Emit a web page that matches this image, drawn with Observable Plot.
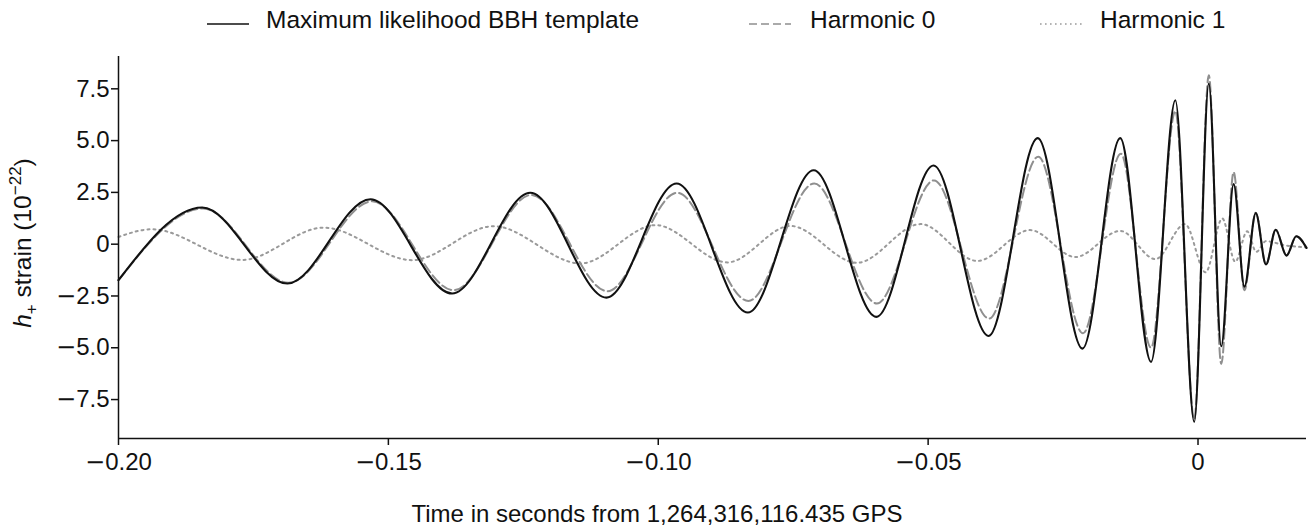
<!DOCTYPE html>
<html>
<head>
<meta charset="utf-8">
<script src="https://cdn.jsdelivr.net/npm/d3@7"></script>
<script src="https://cdn.jsdelivr.net/npm/@observablehq/plot@0.6"></script>
<style>
  html, body { margin: 0; padding: 0; background: #fff; }
  body { width: 1313px; height: 532px; overflow: hidden; font-family: "Liberation Sans", Arial, sans-serif; }
  #legend { position: relative; width: 1313px; height: 40px; font-size: 24.5px; color: #111; }
  #legend .sw { position: absolute; top: 14px; }
  #legend .lab { position: absolute; top: 6px; line-height: 28px; white-space: nowrap; }
</style>
</head>
<body>
<div id="legend"></div>
<div id="chart"></div>
<script>
// ---- Data (time in s, strain in 1e-22) ----
const seriesNames = ["Maximum likelihood BBH template", "Harmonic 0", "Harmonic 1"];

const templateT = [-0.2000, -0.1845, -0.1687, -0.1533, -0.1382, -0.1237, -0.1096, -0.0966, -0.0834, -0.0712,
                   -0.0596, -0.0490, -0.0388, -0.0297, -0.0214, -0.0144, -0.0087, -0.0042, -0.0007, 0.0020,
                   0.0043, 0.0066, 0.0086, 0.0107, 0.0126, 0.0144, 0.0164, 0.0182, 0.0201];
const templateH = [-1.74, 1.77, -1.90, 2.17, -2.38, 2.48, -2.58, 2.93, -3.30, 3.57,
                   -3.51, 3.80, -4.43, 5.12, -5.04, 5.12, -5.68, 6.95, -8.58, 7.75,
                   -4.93, 2.90, -2.05, 1.50, -0.98, 0.70, -0.55, 0.38, -0.18];

const harmonic0T = [-0.2000, -0.1843, -0.1685, -0.1530, -0.1379, -0.1235, -0.1094, -0.0965, -0.0833, -0.0711,
                    -0.0595, -0.0489, -0.0387, -0.0296, -0.0213, -0.0143, -0.0087, -0.0042, -0.0007, 0.0020,
                    0.0043, 0.0066, 0.0086, 0.0107, 0.0126, 0.0144, 0.0164, 0.0182, 0.0201];
const harmonic0H = [-1.74, 1.72, -1.86, 2.07, -2.22, 2.38, -2.27, 2.48, -2.74, 2.93,
                    -2.86, 3.08, -3.59, 4.22, -4.30, 4.37, -5.00, 6.42, -8.45, 8.15,
                    -5.78, 3.48, -2.22, 1.52, -0.98, 0.70, -0.55, 0.38, -0.18];

const harmonic1T = [-0.2000, -0.1938, -0.1771, -0.1620, -0.1456, -0.1305, -0.1144, -0.1005, -0.0872, -0.0755,
                    -0.0632, -0.0514, -0.0409, -0.0311, -0.0227, -0.0144, -0.0079, -0.0024, 0.0014, 0.0045,
                    0.0069, 0.0091, 0.0108, 0.0126, 0.0160, 0.0201];
const harmonic1H = [0.35, 0.72, -0.76, 0.80, -0.77, 0.87, -0.93, 0.92, -0.88, 0.88,
                    -0.90, 0.97, -0.81, 0.68, -0.62, 0.64, -0.72, 0.97, -1.36, 1.24,
                    -0.85, 0.62, -0.37, 0.15, -0.05, -0.15];

const xTicks = [-0.20, -0.15, -0.10, -0.05, 0];
const xTickLabels = ["\u22120.20", "\u22120.15", "\u22120.10", "\u22120.05", "0"];
const yTicks = [-7.5, -5.0, -2.5, 0, 2.5, 5.0, 7.5];
const yTickLabels = ["\u22127.5", "\u22125.0", "\u22122.5", "0", "2.5", "5.0", "7.5"];
const xLabel = "Time in seconds from 1,264,316,116.435 GPS";

// ---- Build tables ----
const toRows = (T, H) => T.map((t, i) => ({t, h: H[i]}));
const templateRows = toRows(templateT, templateH);
const h0Rows = toRows(harmonic0T, harmonic0H);
const h1Rows = toRows(harmonic1T, harmonic1H);

const xLab = new Map(xTicks.map((d, i) => [d, xTickLabels[i]]));
const yLab = new Map(yTicks.map((d, i) => [d, yTickLabels[i]]));

const styles = [
  {stroke: "#111111", dash: null, width: 2.1},
  {stroke: "#8f8f8f", dash: "10,4", width: 2},
  {stroke: "#9a9a9a", dash: "2,4", width: 2}
];

const xDomain = [-0.2, 0.0201];
const yDomain = [-9.38, 9.06];

const chart = Plot.plot({
  width: 1313,
  height: 492,
  marginTop: 16,
  marginBottom: 94,
  marginLeft: 118,
  marginRight: 7,
  style: {fontFamily: "'Liberation Sans', Arial, sans-serif", fontSize: "24px", color: "#111", background: "#fff", overflow: "visible"},
  x: {domain: xDomain},
  y: {domain: yDomain},
  marks: [
    Plot.line(h1Rows, {x: "t", y: "h", stroke: styles[2].stroke, strokeWidth: styles[2].width, strokeDasharray: styles[2].dash, curve: "monotone-x"}),
    Plot.line(h0Rows, {x: "t", y: "h", stroke: styles[1].stroke, strokeWidth: styles[1].width, strokeDasharray: styles[1].dash, curve: "monotone-x"}),
    Plot.line(templateRows, {x: "t", y: "h", stroke: styles[0].stroke, strokeWidth: styles[0].width, curve: "monotone-x"}),
    Plot.axisX({ticks: xTicks, tickFormat: d => xLab.get(d), tickSize: 7, tickPadding: 7, label: null, strokeWidth: 1.5}),
    Plot.axisY({ticks: yTicks, tickFormat: d => yLab.get(d), tickSize: 7, tickPadding: 2, label: null, strokeWidth: 1.5}),
    Plot.ruleX([xDomain[0]], {stroke: "#111", strokeWidth: 1.5}),
    Plot.ruleY([yDomain[0]], {stroke: "#111", strokeWidth: 1.5})
  ]
});

const svg = d3.select(chart);

// wider minus sign in tick labels, as in the reference typography
svg.selectAll('g[aria-label="x-axis tick label"] text, g[aria-label="y-axis tick label"] text').each(function () {
  const s = this.textContent;
  if (s.startsWith("\u2212")) {
    const t = d3.select(this);
    t.text(null);
    t.append("tspan").attr("font-family", "'DejaVu Sans', sans-serif").text("\u2212");
    t.append("tspan").text(s.slice(1));
  }
});

// y axis label with italic h, subscript + and superscript exponent
const yl = svg.append("text")
  .attr("transform", "translate(31,203) rotate(-90)")
  .attr("text-anchor", "middle")
  .attr("fill", "#111")
  .attr("font-size", 24.5);
yl.append("tspan").attr("font-style", "italic").text("h");
yl.append("tspan").attr("font-size", 17).attr("dy", 6).text("+");
yl.append("tspan").attr("dy", -6).text(" strain (10");
yl.append("tspan").attr("font-size", 17).attr("dy", -10).text("\u221222");
yl.append("tspan").attr("dy", 10).text(")");

svg.append("text")
  .attr("x", 657)
  .attr("y", 482)
  .attr("text-anchor", "middle")
  .attr("fill", "#111")
  .attr("font-size", 24)
  .text(xLabel);

document.getElementById("chart").appendChild(chart);

// ---- Legend (HTML above the SVG) ----
const legend = document.getElementById("legend");
const legendPos = [{sw: 207, lab: 266}, {sw: 749, lab: 810}, {sw: 1040, lab: 1100}];
seriesNames.forEach((name, i) => {
  const s = styles[i];
  const sw = document.createElementNS("http://www.w3.org/2000/svg", "svg");
  sw.setAttribute("width", 44); sw.setAttribute("height", 20);
  sw.setAttribute("class", "sw");
  sw.style.left = legendPos[i].sw + "px";
  const ln = document.createElementNS("http://www.w3.org/2000/svg", "line");
  ln.setAttribute("x1", 0); ln.setAttribute("x2", 42); ln.setAttribute("y1", 10); ln.setAttribute("y2", 10);
  ln.setAttribute("stroke", s.stroke); ln.setAttribute("stroke-width", 1.6);
  if (s.dash) ln.setAttribute("stroke-dasharray", i === 2 ? "1.6,3.4" : "8,4");
  sw.appendChild(ln);
  legend.appendChild(sw);
  const lab = document.createElement("div");
  lab.className = "lab";
  lab.style.left = legendPos[i].lab + "px";
  lab.textContent = name;
  legend.appendChild(lab);
});
</script>
</body>
</html>
